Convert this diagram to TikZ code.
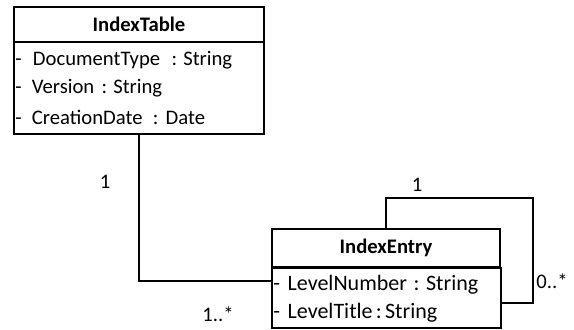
\documentclass[tikz,border=0pt]{standalone}
\usepackage{fontspec}
\setmainfont{Carlito}
\tikzset{
  classbox/.style={draw, line width=1.5pt, inner sep=0pt},
  attr/.style={anchor=west, inner sep=0pt, font=\fontsize{15.5}{17}\selectfont},
  eattr/.style={anchor=west, inner sep=0pt, font=\fontsize{16.5}{18}\selectfont},
  cname/.style={inner sep=0pt, font=\fontsize{15.5}{17}\selectfont\bfseries},
  mult/.style={inner sep=0pt, font=\fontsize{15.5}{17}\selectfont},
}
\begin{document}
\begin{tikzpicture}[x=0.75pt,y=0.75pt,yscale=-1,xscale=1]
\useasboundingbox (0,0) rectangle (574,329);

%Shape: Class IndexTable
\node [classbox, minimum width=250*0.75pt, minimum height=35*0.75pt] (tablehead) at (139,24.5) {};
\node [classbox, minimum width=250*0.75pt, minimum height=92*0.75pt] (tablebody) at (139,88) {};
%Shape: Class IndexEntry
\node [classbox, minimum width=228*0.75pt, minimum height=38*0.75pt] (entryhead) at (386,248) {};
\node [classbox, minimum width=229*0.75pt, minimum height=60*0.75pt] (entrybody) at (386.5,297.5) {};

% Text Node
\node [cname] (tabletitle) at (tablehead.center) {IndexTable};
\node [attr] (doctype) at (15,60) {-\hspace{0.55em}DocumentType\hspace{0.55em}:\hspace{0.3em}String};
\node [attr] (version) at (15,88.5) {-\hspace{0.5em}Version\hspace{0.35em}:\hspace{0.3em}String};
\node [attr] (cdate) at (15,117) {-\hspace{0.5em}CreationDate\hspace{0.5em}:\hspace{0.35em}Date};
% Text Node
\node [cname] (entrytitle) at (entryhead.center) {IndexEntry};
\node [eattr] (lvnumber) at (273,285) {-\hspace{0.35em}LevelNumber\hspace{0.3em}:\hspace{0.3em}String};
\node [eattr] (lvtitle) at (273,313) {-\hspace{0.35em}LevelTitle\hspace{0.15em}:\hspace{0.15em}String};

%Straight Lines: association
\coordinate (assocend) at (272,281);
\draw [line width=1.5pt] (tablebody.south) |- (assocend);

%Straight Lines: self association
\coordinate (loopa) at (533,198);
\coordinate (loopb) at (500,303);
\draw [line width=1.5pt] (entryhead.north) |- (loopa) |- (loopb);

% Text Node
\node [mult] (onetable) at (105,182) {1};
\node [mult] (manyentry) at (218,314) {1..*};
\node [mult] (oneparent) at (417,185) {1};
\node [mult] (manychild) at (552,281) {0..*};

\end{tikzpicture}
\end{document}
